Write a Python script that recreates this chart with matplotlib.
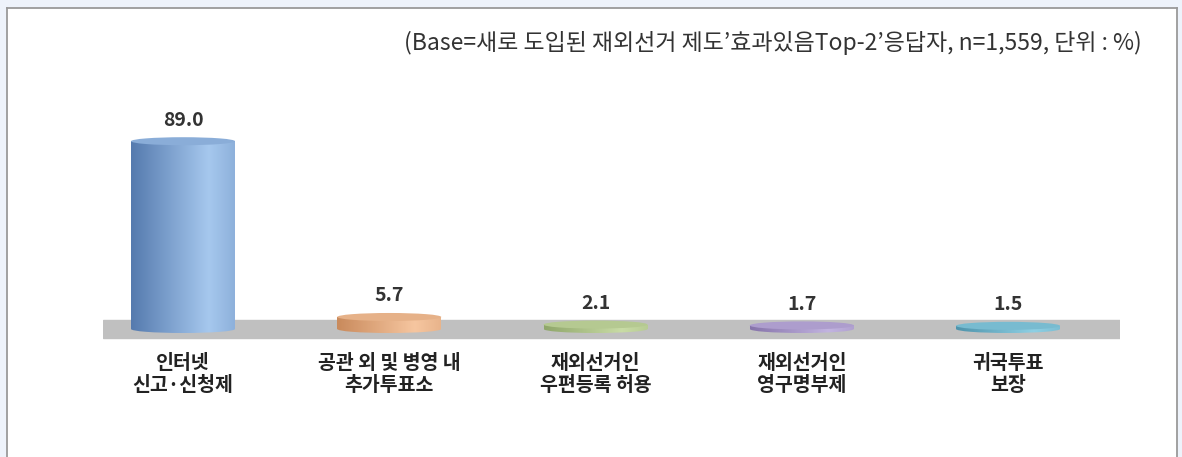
import numpy as np
import matplotlib.pyplot as plt
from matplotlib.patches import Ellipse, Rectangle
from matplotlib.colors import to_rgb

plt.rcParams['font.family'] = ['Noto Sans CJK KR', 'DejaVu Sans']

categories = ['인터넷\n신고·신청제', '공관 외 및 병영 내\n추가투표소', '재외선거인\n우편등록 허용',
              '재외선거인\n영구명부제', '귀국투표\n보장']
values = [89.0, 5.7, 2.1, 1.7, 1.5]
value_labels = ['89.0', '5.7', '2.1', '1.7', '1.5']
dark_colors = ['#557aae', '#c98a5c', '#8fa66a', '#8673aa', '#4e93ab']
light_colors = ['#a6c8ee', '#f6c6a0', '#c9dca6', '#c2b4e0', '#8fd0e4']
note = "(Base=새로 도입된 재외선거 제도’효과있음Top-2’응답자, n=1,559, 단위 : %)"

W, H = 1182, 457
fig = plt.figure(figsize=(W / 100, H / 100), dpi=100)
fig.patch.set_facecolor('#eef3fb')

# white panel with gray border
panel = fig.add_axes([7 / W, 0, 1170 / W, 1 - 8 / H])
panel.set_xticks([])
panel.set_yticks([])
panel.set_facecolor('white')
for s in ['left', 'top', 'right']:
    panel.spines[s].set_color('#9a9a9a')
    panel.spines[s].set_linewidth(1.3)
panel.spines['bottom'].set_visible(False)

fig.text(1142 / W, 1 - 43 / H, note, ha='right', va='center', fontsize=16.5, color='#333333')

# chart area
zero_px = 329
ax_top, ax_bot = 100, 345
ax = fig.add_axes([103 / W, 1 - ax_bot / H, 1017 / W, (ax_bot - ax_top) / H])
ax.set_facecolor('none')
ppu = 2.11  # pixels per percent
step = 206.25
ylim = ((zero_px - ax_bot) / ppu, (zero_px - ax_top) / ppu)
xlim = (-(183 - 103) / step, 4 + (1120 - 1008) / step)
ax.axis('off')

# gray floor
ax.axhspan(-9 / ppu, 9 / ppu, color='#c0c0c0', zorder=0)

bw = 104 / step
eh = 8 / ppu
x = np.arange(len(values))
bars = ax.bar(x, values, width=bw, color='none', zorder=2)

t = np.linspace(0, 1, 256)
prof = np.clip(np.where(t < 0.75, t / 0.75, 1 - (t - 0.75) * 1.2), 0, 1)

for i, b in enumerate(bars):
    v = values[i]
    c0 = np.array(to_rgb(dark_colors[i]))
    c1 = np.array(to_rgb(light_colors[i]))
    grad = (c0[None, :] * (1 - prof[:, None]) + c1[None, :] * prof[:, None])[None, :, :]
    x0 = b.get_x()
    im = ax.imshow(grad, extent=[x0, x0 + bw, -eh / 2, v], aspect='auto', zorder=3)
    im.set_clip_path(Rectangle((x0, 0), bw, v, transform=ax.transData))
    bot = Ellipse((x[i], 0), bw, eh, facecolor='none', edgecolor='none', zorder=3)
    ax.add_patch(bot)
    im2 = ax.imshow(grad, extent=[x0, x0 + bw, -eh / 2, v], aspect='auto', zorder=3)
    im2.set_clip_path(bot)
    top = Ellipse((x[i], v), bw, eh, facecolor=(c0 * 0.35 + c1 * 0.65), edgecolor='none', zorder=4)
    ax.add_patch(top)
    ax.text(x[i], v + 21 / ppu, value_labels[i], ha='center', va='center',
            fontsize=14, fontweight='bold', color='#333333', zorder=5)
    ax.text(x[i], -45.5 / ppu, categories[i], ha='center', va='center', fontsize=14,
            fontweight='bold', color='#222222', linespacing=1.2, zorder=5)

ax.set_ylim(*ylim)
ax.set_xlim(*xlim)
for a in ax.texts:
    a.set_clip_on(False)

fig.savefig('out.png', dpi=100)
